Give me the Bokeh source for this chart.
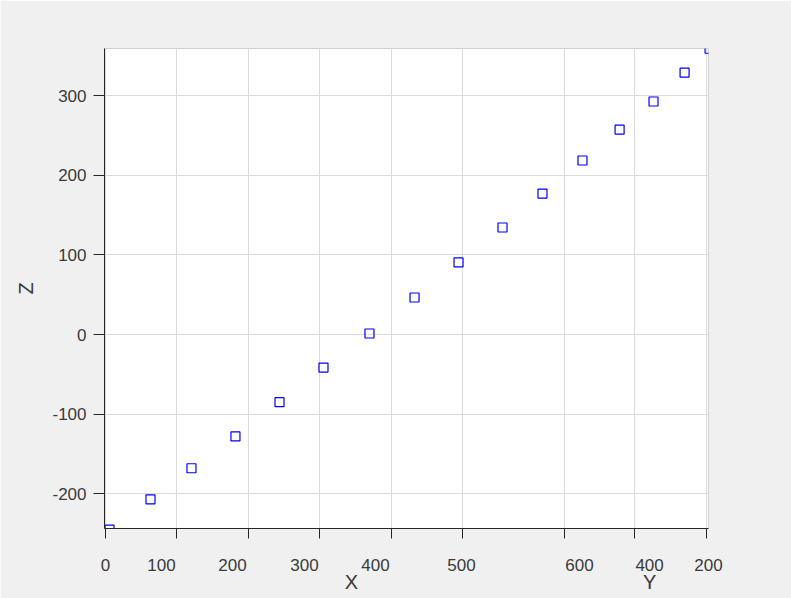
from bokeh.plotting import figure
from bokeh.models import FixedTicker, LinearAxis, Range1d
from bokeh.embed import file_html
from bokeh.resources import INLINE

# projected horizontal position (in X-axis units) and Z of each point
x_proj = [5.6, 63, 120.4, 182, 243.7, 305.3, 369.7, 432.8, 494.4, 556, 612, 668, 720, 767.5, 811, 846]
z_vals = [-245, -207, -168, -128, -85, -41.5, 1.3, 46.5, 90.5, 134.4, 177, 218.6, 257.5, 292.7, 329, 359]

# tick marks / grid positions (horizontal, in X units) and where their labels sit
h_ticks = [0, 100, 200, 300, 400, 500, 643, 741, 842]
h_label_pos = [0, 78.4, 177.9, 278.7, 378.2, 498.6, 663.9, 762, 844.5]
h_labels = ["0", "100", "200", "300", "400", "500", "600", "400", "200"]
z_ticks = [-200, -100, 0, 100, 200, 300]
z_labels = ["-200", "-100", "0", "100", "200", "300"]
axis_name_pos = [344.5, 762]
axis_names = ["X", "Y"]

FONT = "Liberation Sans"
TXT = "#262626"
LAB = "#3a3a3a"

p = figure(frame_width=604, frame_height=480,
           x_range=Range1d(-1.4, 844.5), y_range=Range1d(-243.7, 359.3),
           output_backend="svg", toolbar_location=None,
           min_border_left=104, min_border_right=83, min_border_top=48, min_border_bottom=70)

p.border_fill_color = "#f0f0f0"
p.background_fill_color = "white"
p.outline_line_color = "#d0d0d0"

xa = p.below[0]
ya = p.left[0]

# main horizontal axis: line + ticks only
xa.ticker = FixedTicker(ticks=h_ticks)
xa.major_label_overrides = {t: "" for t in h_ticks}
xa.major_label_text_font_size = "0px"
xa.major_label_standoff = 0
xa.major_tick_out = 10
xa.major_tick_in = 0
xa.minor_tick_out = 0
xa.minor_tick_in = 0
xa.axis_line_color = TXT
xa.major_tick_line_color = TXT

ya.ticker = FixedTicker(ticks=z_ticks)
ya.major_label_overrides = {t: l for t, l in zip(z_ticks, z_labels)}
ya.major_tick_out = 11
ya.major_tick_in = 0
ya.minor_tick_out = 0
ya.minor_tick_in = 0
ya.axis_line_color = TXT
ya.major_tick_line_color = TXT
ya.major_label_text_font = FONT
ya.major_label_text_font_size = "17px"
ya.major_label_text_color = LAB
ya.major_label_standoff = 7
ya.axis_label = "Z"
ya.axis_label_text_font = FONT
ya.axis_label_text_font_style = "normal"
ya.axis_label_text_font_size = "20px"
ya.axis_label_text_color = LAB
ya.axis_label_standoff = 12

# tick labels of the projected X / Y axes
lab_axis = LinearAxis(ticker=FixedTicker(ticks=h_label_pos),
                      major_label_overrides={t: l for t, l in zip(h_label_pos, h_labels)},
                      axis_line_color=None, major_tick_line_color=None, minor_tick_line_color=None,
                      major_tick_out=0, major_tick_in=0, minor_tick_out=0, minor_tick_in=0,
                      major_label_standoff=20, major_label_text_font=FONT,
                      major_label_text_font_size="17px", major_label_text_color=LAB)
p.add_layout(lab_axis, "below")

# axis names X and Y
name_axis = LinearAxis(ticker=FixedTicker(ticks=axis_name_pos),
                       major_label_overrides={t: l for t, l in zip(axis_name_pos, axis_names)},
                       axis_line_color=None, major_tick_line_color=None, minor_tick_line_color=None,
                       major_tick_out=0, major_tick_in=0, minor_tick_out=0, minor_tick_in=0,
                       major_label_standoff=-3, major_label_text_font=FONT,
                       major_label_text_font_size="20px", major_label_text_color=LAB)
p.add_layout(name_axis, "below")

p.grid.grid_line_color = "#dcdcdc"
p.xgrid.ticker = FixedTicker(ticks=h_ticks)
p.ygrid.ticker = FixedTicker(ticks=z_ticks)

p.scatter(x_proj, z_vals, marker="square", size=9, fill_color=None,
          line_color="#0000ff", line_width=1.2)

open("out.html", "w").write(file_html(p, INLINE))
